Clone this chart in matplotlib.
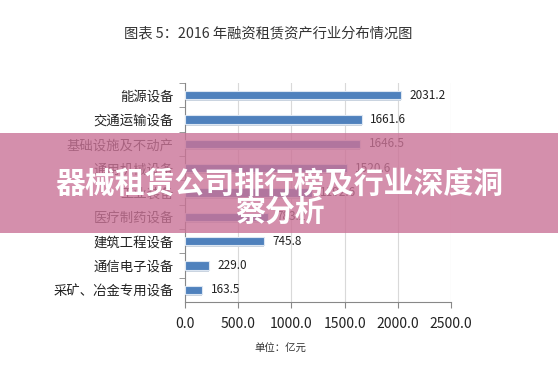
import matplotlib
matplotlib.use("Agg")
import matplotlib.pyplot as plt
from matplotlib.patches import Rectangle

plt.rcParams['font.family'] = ['Noto Sans CJK SC', 'DejaVu Sans']

# categories top to bottom, values in 亿元
categories = ["能源设备", "交通运输设备", "基础设施及不动产", "通用机械设备", "工业装备",
              "医疗制药设备", "建筑工程设备", "通信电子设备", "采矿、冶金专用设备"]
values = [2031.2, 1661.6, 1646.5, 1520.6, 1192.6, 783.2, 745.8, 229.0, 163.5]
xticks = [0, 500, 1000, 1500, 2000, 2500]

title = "图表 5：2016 年融资租赁资产行业分布情况图"
unit = "单位：亿元"
banner = ["器械租赁公司排行榜及行业深度洞", "察分析"]

fig = plt.figure(figsize=(5.58, 3.70), dpi=100)
ax = fig.add_axes([0.3315, 0.184, 0.4767, 0.592])

ypos = list(range(len(categories)))

# soft shadow under each bar, then the bar itself
ax.barh([y + 0.08 for y in ypos], values, height=0.36, color="#c9d3e0", zorder=2)
ax.barh(ypos, values, height=0.34, color="#4f81bd", edgecolor="#dce6f2",
        linewidth=0.8, zorder=3)

for y, v in zip(ypos, values):
    ax.text(v + 80, y, "%.1f" % v, va="center", ha="left", fontsize=8.5,
            color="#222222", zorder=4)

ax.set_ylim(len(categories) - 0.5, -0.5)
ax.set_xlim(0, 2500)
ax.set_yticks(ypos)
ax.set_yticklabels(categories, fontsize=9.6, color="#222222")
ax.set_yticks([y + 0.5 for y in ypos[:-1]] + [-0.5], minor=True)
ax.tick_params(axis="y", which="major", length=0, pad=8)
ax.tick_params(axis="y", which="minor", length=4, color="#888888")
ax.set_xticks(xticks)
ax.set_xticklabels(["%.1f" % t for t in xticks], fontsize=10, color="#222222")
ax.tick_params(axis="x", length=4, color="#888888", pad=7)

ax.grid(axis="x", color="#d9d9d9", linewidth=0.8, zorder=0)
for side in ["top", "right"]:
    ax.spines[side].set_visible(False)
for side in ["left", "bottom"]:
    ax.spines[side].set_color("#888888")

fig.text(0.48, 0.91, title, ha="center", va="center", fontsize=10.3, color="#333333")
fig.text(0.502, 0.058, unit, ha="center", va="center", fontsize=7.5, color="#333333")

# pink overlay band with white heading
fig.patches.append(Rectangle((0, 0.37), 1, 0.27, transform=fig.transFigure,
                             facecolor=(202/255, 115/255, 151/255), alpha=0.8,
                             zorder=10))
fig.text(0.5, 0.5, banner[0], ha="center", va="center", fontsize=21.5,
         fontweight="heavy", color="white", zorder=11)
fig.text(0.502, 0.428, banner[1], ha="center", va="center", fontsize=21.5,
         fontweight="heavy", color="white", zorder=11)

fig.savefig("out.png", dpi=100)
